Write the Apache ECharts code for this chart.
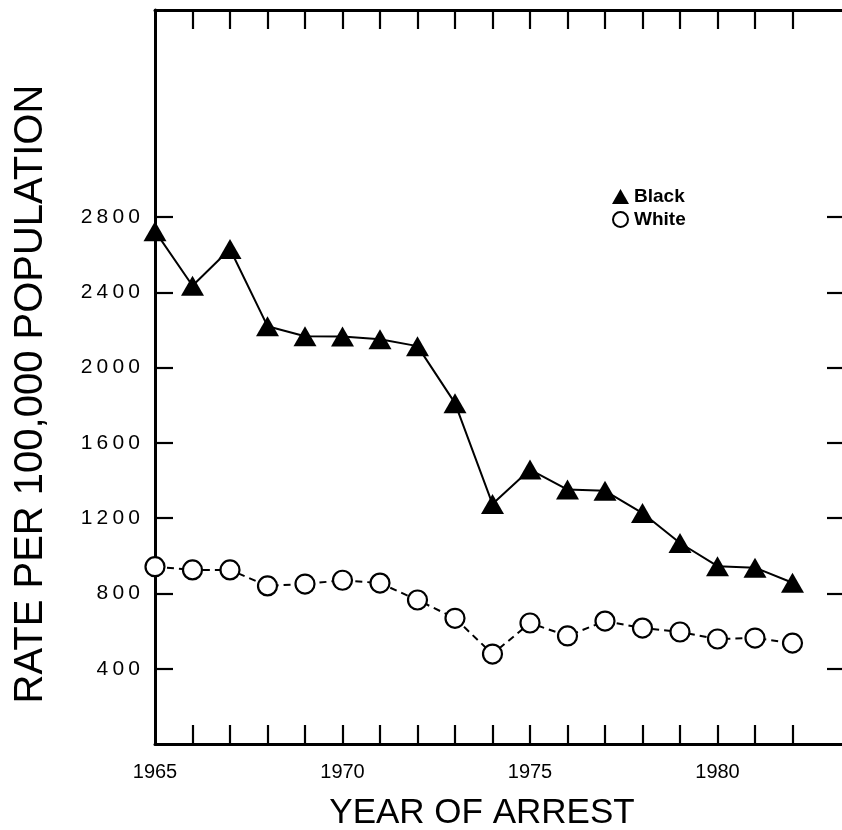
<!DOCTYPE html>
<html>
<head>
<meta charset="utf-8">
<script src="https://cdn.jsdelivr.net/npm/echarts@6/dist/echarts.min.js"></script>
<style>
  html, body { margin: 0; padding: 0; background: #fff; }
  #chart { width: 842px; height: 830px; }
</style>
</head>
<body>
<div id="chart"></div>
<script>
// Arrest rates per 100,000 population, by year of arrest
const years = [1965, 1966, 1967, 1968, 1969, 1970, 1971, 1972, 1973,
               1974, 1975, 1976, 1977, 1978, 1979, 1980, 1981, 1982];
const blackRates = [2725, 2435, 2630, 2220, 2167, 2165, 2150, 2114, 1811,
                    1275, 1458, 1352, 1345, 1227, 1068, 945, 937, 857];
const whiteRates = [942, 925, 925, 840, 850, 870, 855, 765, 668,
                    478, 643, 574, 653, 616, 595, 558, 563, 536];

const yearLabels = [1965, 1970, 1975, 1980];
const yearTicks = [1966, 1967, 1968, 1969, 1970, 1971, 1972, 1973, 1974,
                   1975, 1976, 1977, 1978, 1979, 1980, 1981, 1982];
const rateTicks = [400, 800, 1200, 1600, 2000, 2400, 2800];

const FONT = "'Liberation Sans', Arial, sans-serif";
const spaced = s => String(s).split('').join('\u2009');

const axisLineStyle = { show: true, onZero: false, lineStyle: { color: '#000', width: 3 } };
const tickStyle = { color: '#000', width: 2.2 };

const chart = echarts.init(document.getElementById('chart'), null, { renderer: 'canvas' });

chart.setOption({
  animation: false,
  backgroundColor: '#fff',
  // the right-hand frame line sits just past the page edge; only its ticks show
  grid: { left: 155, top: 10, width: 690, bottom: 86, containLabel: false, outerBoundsMode: 'none' },
  legend: {
    left: 607, top: 182, orient: 'vertical',
    itemWidth: 17, itemHeight: 15, itemGap: 4,
    textStyle: { fontFamily: FONT, fontSize: 19, fontWeight: 'bold', color: '#000' },
    data: [
      { name: 'Black', icon: 'triangle' },
      { name: 'White', icon: 'circle' }
    ]
  },
  xAxis: [
    {
      type: 'value', min: 1965, max: 1983.4, position: 'bottom',
      name: 'YEAR OF ARREST', nameLocation: 'middle', nameGap: 52,
      nameTextStyle: { fontFamily: FONT, fontSize: 35, color: '#000', padding: [0, 36, 0, 0] },
      axisLine: axisLineStyle,
      splitLine: { show: false },
      axisTick: { show: true, inside: true, length: 19, customValues: yearTicks, lineStyle: tickStyle },
      axisLabel: { show: true, customValues: yearLabels, margin: 18,
                   formatter: v => String(v),
                   fontFamily: FONT, fontSize: 20, color: '#000' }
    },
    {
      type: 'value', min: 1965, max: 1983.4, position: 'top',
      axisLine: axisLineStyle,
      splitLine: { show: false },
      axisTick: { show: true, inside: true, length: 19, customValues: yearTicks, lineStyle: tickStyle },
      axisLabel: { show: false }
    }
  ],
  yAxis: [
    {
      type: 'value', min: 0, max: 3900, position: 'left',
      name: 'RATE PER 100,000 POPULATION', nameLocation: 'middle', nameGap: 104,
      nameTextStyle: { fontFamily: FONT, fontSize: 40, color: '#000', padding: [0, 34, 0, 0] },
      axisLine: axisLineStyle,
      splitLine: { show: false },
      axisTick: { show: true, inside: true, length: 18, customValues: rateTicks, lineStyle: tickStyle },
      axisLabel: { show: true, customValues: rateTicks, margin: 15,
                   formatter: v => spaced(v),
                   fontFamily: FONT, fontSize: 21, color: '#000' }
    },
    {
      type: 'value', min: 0, max: 3900, position: 'right',
      axisLine: axisLineStyle,
      splitLine: { show: false },
      axisTick: { show: true, inside: true, length: 18, customValues: rateTicks, lineStyle: tickStyle },
      axisLabel: { show: false }
    }
  ],
  series: [
    {
      name: 'Black', type: 'line',
      data: years.map((y, i) => [y, blackRates[i]]),
      symbol: 'triangle', symbolSize: [23, 20],
      itemStyle: { color: '#000' },
      lineStyle: { color: '#000', width: 2 },
      z: 3
    },
    {
      name: 'White', type: 'line',
      data: years.map((y, i) => [y, whiteRates[i]]),
      symbol: 'circle', symbolSize: 19,
      itemStyle: { color: '#fff', borderColor: '#000', borderWidth: 2.2 },
      lineStyle: { color: '#000', width: 2, type: [7, 5] },
      z: 3
    }
  ]
});
</script>
</body>
</html>
